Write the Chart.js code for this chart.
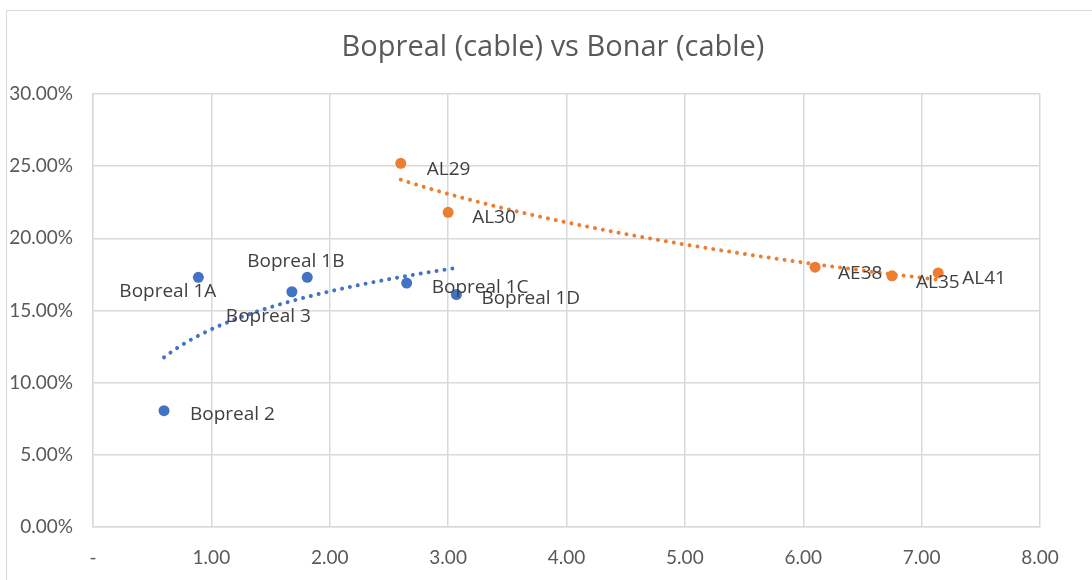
<!DOCTYPE html>
<html>
<head>
<meta charset="utf-8">
<script src="https://cdn.jsdelivr.net/npm/chart.js@4/dist/chart.umd.min.js"></script>
<style>
  html, body { margin: 0; padding: 0; background: #fff; }
  #wrap { width: 1092px; height: 580px; position: relative; }
</style>
</head>
<body>
<div id="wrap"><canvas id="chart"></canvas></div>
<script>
// Bopreal series (duration vs yield)
const bopreal_names = ["Bopreal 1A", "Bopreal 1B", "Bopreal 3", "Bopreal 1C", "Bopreal 1D", "Bopreal 2"];
const bopreal_x = [0.89, 1.81, 1.68, 2.65, 3.07, 0.60];
const bopreal_y = [0.173, 0.173, 0.163, 0.169, 0.161, 0.0806];

// Bonar series
const bonar_names = ["AL29", "AL30", "AE38", "AL35", "AL41"];
const bonar_x = [2.60, 3.00, 6.10, 6.75, 7.14];
const bonar_y = [0.252, 0.218, 0.180, 0.174, 0.176];

const x_ticks = [0, 1, 2, 3, 4, 5, 6, 7, 8];
const y_ticks = [0, 0.05, 0.10, 0.15, 0.20, 0.25, 0.30];

const chart_title = "Bopreal (cable) vs Bonar (cable)";

// where each data label sits relative to its point (px)
const bopreal_label_off = [[-79, 14], [-60, -16], [-66, 25], [25, 5], [25, 4], [26, 4]];
const bonar_label_off = [[26, 6], [24, 5], [23, 6], [24, 7], [24, 6]];

const BLUE = "#4472C4";
const ORANGE = "#ED7D31";
const FONT = "Lato, 'Open Sans', sans-serif";
const LABEL_FONT = "'Open Sans', Lato, sans-serif";

function toPoints(xs, ys) {
    return xs.map((x, i) => ({ x: x, y: ys[i] }));
}

// logarithmic trendline, like excel: y = a + b*ln(x)
function logTrend(xs, ys, steps) {
    let lx = xs.map(v => Math.log(v));
    let mx = lx.reduce((s, v) => s + v, 0) / lx.length;
    let my = ys.reduce((s, v) => s + v, 0) / ys.length;
    let sxy = 0, sxx = 0;
    lx.forEach((v, i) => {
        sxy += (v - mx) * (ys[i] - my);
        sxx += (v - mx) * (v - mx);
    });
    let b = sxy / sxx;
    let a = my - b * mx;
    let lo = Math.min(...xs), hi = Math.max(...xs);
    let pts = [];
    for (let i = 0; i <= steps; i++) {
        let x = lo + (hi - lo) * i / steps;
        pts.push({ x: x, y: a + b * Math.log(x) });
    }
    return pts;
}

// white background, outer border and the title (centred on the frame, not the plot)
const frame = {
    id: "frame",
    beforeDraw(chart) {
        const ctx = chart.ctx;
        ctx.save();
        ctx.fillStyle = "#fff";
        ctx.fillRect(0, 0, chart.width, chart.height);
        ctx.strokeStyle = "#d9d9d9";
        ctx.lineWidth = 1;
        ctx.strokeRect(6.5, 10.5, chart.width, chart.height);
        ctx.font = "29px " + LABEL_FONT;
        ctx.fillStyle = "#595959";
        ctx.textAlign = "center";
        ctx.textBaseline = "middle";
        ctx.fillText(chart_title, 553, 48);
        ctx.restore();
    }
};

const pointLabels = {
    id: "pointLabels",
    afterDatasetsDraw(chart) {
        const ctx = chart.ctx;
        ctx.save();
        ctx.font = "19px " + LABEL_FONT;
        ctx.fillStyle = "#404040";
        ctx.textBaseline = "middle";
        ctx.textAlign = "left";
        chart.data.datasets.forEach((ds, di) => {
            if (!ds.names) return;
            chart.getDatasetMeta(di).data.forEach((pt, i) => {
                let off = ds.labelOff[i];
                ctx.fillText(ds.names[i], pt.x + off[0], pt.y + off[1]);
            });
        });
        ctx.restore();
    }
};

new Chart(document.getElementById("chart"), {
    type: "scatter",
    data: {
        datasets: [
            {
                label: "Bopreal trend",
                data: logTrend(bopreal_x, bopreal_y, 100),
                showLine: true,
                borderColor: BLUE,
                borderWidth: 4,
                borderDash: [0.01, 8],
                borderCapStyle: "round",
                pointRadius: 0,
                tension: 0
            },
            {
                label: "Bonar trend",
                data: logTrend(bonar_x, bonar_y, 100),
                showLine: true,
                borderColor: ORANGE,
                borderWidth: 4,
                borderDash: [0.01, 8],
                borderCapStyle: "round",
                pointRadius: 0,
                tension: 0
            },
            {
                label: "Bopreal",
                data: toPoints(bopreal_x, bopreal_y),
                names: bopreal_names,
                labelOff: bopreal_label_off,
                backgroundColor: BLUE,
                borderColor: BLUE,
                pointRadius: 5.5,
                borderWidth: 0
            },
            {
                label: "Bonar",
                data: toPoints(bonar_x, bonar_y),
                names: bonar_names,
                labelOff: bonar_label_off,
                backgroundColor: ORANGE,
                borderColor: ORANGE,
                pointRadius: 5.5,
                borderWidth: 0
            }
        ]
    },
    options: {
        responsive: true,
        maintainAspectRatio: false,
        animation: false,
        layout: { padding: { left: 0, right: 52, top: 94, bottom: 0 } },
        plugins: {
            legend: { display: false },
            tooltip: { enabled: false },
            title: { display: false }
        },
        scales: {
            x: {
                type: "linear",
                min: 0,
                max: 8,
                afterBuildTicks: axis => { axis.ticks = x_ticks.map(v => ({ value: v })); },
                afterFit: axis => { axis.height = 53; },
                ticks: {
                    color: "#595959",
                    font: { family: FONT, size: 19 },
                    padding: 19,
                    maxRotation: 0,
                    callback: v => v === 0 ? "-" : v.toFixed(2)
                },
                grid: { color: "#d9d9d9", lineWidth: 1.5, drawTicks: false },
                border: { color: "#d9d9d9", width: 1.5 }
            },
            y: {
                min: 0,
                max: 0.30,
                afterBuildTicks: axis => { axis.ticks = y_ticks.map(v => ({ value: v })); },
                afterFit: axis => { axis.width = 93; },
                ticks: {
                    color: "#595959",
                    font: { family: FONT, size: 19 },
                    padding: 20,
                    callback: v => (v * 100).toFixed(2) + "%"
                },
                grid: { color: "#d9d9d9", lineWidth: 1.5, drawTicks: false },
                border: { color: "#d9d9d9", width: 1.5 }
            }
        }
    },
    plugins: [frame, pointLabels]
});
</script>
</body>
</html>
